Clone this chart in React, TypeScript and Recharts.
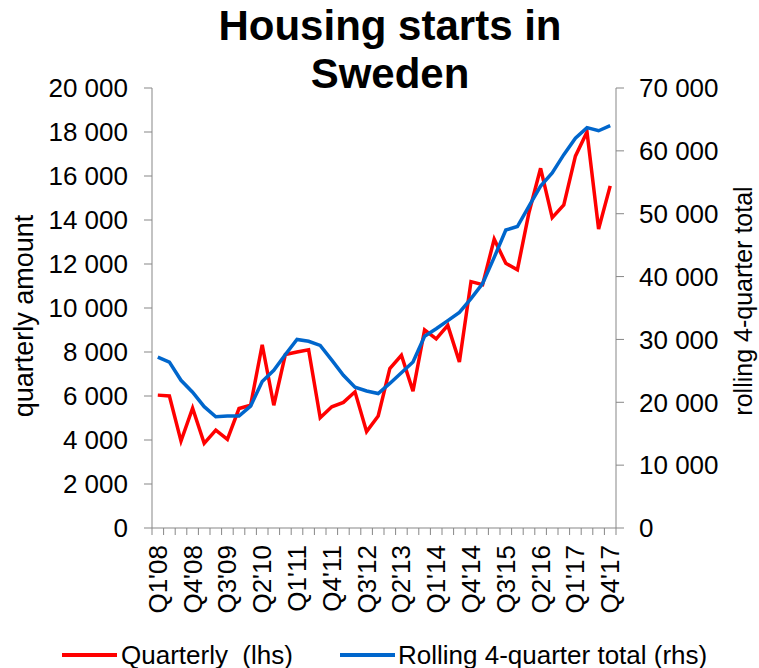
import { LineChart, Line, XAxis, YAxis } from 'recharts'

const FONT = '"Liberation Sans", Arial, sans-serif'
const AXIS_GREY = '#878787'
const RED = '#ff0000'
const BLUE = '#0066cc'

const years = ['08', '09', '10', '11', '12', '13', '14', '15', '16', '17']
const quarters = years.flatMap(y => [1, 2, 3, 4].map(q => `Q${q}'${y}`))

// quarterly housing starts (lhs)
const quarterly = [
  6040, 6000, 3950, 5450, 3850, 4450, 4030, 5430, 5580, 8330,
  5580, 7890, 8000, 8100, 5010, 5510, 5710, 6190, 4380, 5090,
  7250, 7850, 6220, 9010, 8600, 9210, 7550, 11200, 11060, 13130,
  12030, 11740, 14340, 16350, 14110, 14690, 16900, 18000, 13590, 15550,
]

// rolling 4-quarter total (rhs)
const rolling = [
  27200, 26400, 23500, 21600, 19300, 17700, 17800, 17800, 19400, 23300,
  25100, 27600, 30000, 29700, 29050, 26700, 24300, 22400, 21800, 21400,
  23000, 24700, 26400, 30500, 31700, 33000, 34300, 36500, 38900, 43050,
  47400, 47960, 51200, 54400, 56500, 59400, 62000, 63700, 63200, 64000,
]

const leftTicks = [0, 2000, 4000, 6000, 8000, 10000, 12000, 14000, 16000, 18000, 20000]
const rightTicks = [0, 10000, 20000, 30000, 40000, 50000, 60000, 70000]

const data = quarters.map((q, i) => ({
  quarter: q,
  quarterly: quarterly[i],
  rolling: rolling[i],
}))

const fmt = (v: number) => String(v).replace(/\B(?=(\d{3})+(?!\d))/g, ' ')

const HALF_BAND = 5.8

const QuarterTick = (props: any) => {
  const { x, y, index, payload } = props
  const i = index ?? payload?.index ?? 0
  return (
    <g>
      <line x1={x - HALF_BAND} x2={x - HALF_BAND} y1={y - 7} y2={y} stroke={AXIS_GREY} />
      {i === quarters.length - 1 && (
        <line x1={x + HALF_BAND} x2={x + HALF_BAND} y1={y - 7} y2={y} stroke={AXIS_GREY} />
      )}
      {i % 3 === 0 && (
        <text
          x={x}
          y={y + 10}
          transform={`rotate(-90, ${x}, ${y + 10})`}
          textAnchor="end"
          dy="0.35em"
          fontSize={26}
          fontFamily={FONT}
          fill="#000"
        >
          {payload.value}
        </text>
      )}
    </g>
  )
}

export default function App() {
  return (
    <div style={{ position: 'absolute', left: 0, top: 0, width: 759, height: 668, background: '#fff', fontFamily: FONT }}>
      <LineChart
        width={759}
        height={668}
        data={data}
        margin={{ top: 88, right: 0, bottom: 40, left: 0 }}
      >
        <XAxis
          dataKey="quarter"
          interval={0}
          height={100}
          padding={{ left: HALF_BAND, right: HALF_BAND }}
          tickLine={false}
          tickSize={7}
          tickMargin={0}
          axisLine={{ stroke: AXIS_GREY }}
          tick={<QuarterTick />}
        />
        <YAxis
          yAxisId="left"
          width={152}
          domain={[0, 20000]}
          ticks={leftTicks}
          tickFormatter={fmt}
          tickSize={8}
          tickMargin={16}
          axisLine={{ stroke: AXIS_GREY }}
          tickLine={{ stroke: AXIS_GREY }}
          tick={{ fontSize: 26, fill: '#000', fontFamily: FONT }}
          interval={0}
        />
        <YAxis
          yAxisId="right"
          orientation="right"
          width={143}
          domain={[0, 70000]}
          ticks={rightTicks}
          tickFormatter={fmt}
          tickSize={8}
          tickMargin={15}
          axisLine={{ stroke: AXIS_GREY }}
          tickLine={{ stroke: AXIS_GREY }}
          tick={{ fontSize: 26, fill: '#000', fontFamily: FONT }}
          interval={0}
        />
        <Line
          yAxisId="left"
          type="linear"
          dataKey="quarterly"
          stroke={RED}
          strokeWidth={3.5}
          dot={false}
          isAnimationActive={false}
        />
        <Line
          yAxisId="right"
          type="linear"
          dataKey="rolling"
          stroke={BLUE}
          strokeWidth={3.5}
          dot={false}
          isAnimationActive={false}
        />
      </LineChart>

      <svg
        width={759}
        height={668}
        style={{ position: 'absolute', left: 0, top: 0, pointerEvents: 'none' }}
      >
        <text x={390} y={40} textAnchor="middle" fontSize={42} fontWeight="bold" fontFamily={FONT}>
          Housing starts in
        </text>
        <text x={390} y={88} textAnchor="middle" fontSize={42} fontWeight="bold" fontFamily={FONT}>
          Sweden
        </text>
        <text
          transform="translate(33, 316) rotate(-90)"
          textAnchor="middle"
          fontSize={27}
          fontFamily={FONT}
        >
          quarterly amount
        </text>
        <text
          transform="translate(752, 301) rotate(-90)"
          textAnchor="middle"
          fontSize={25}
          fontFamily={FONT}
        >
          rolling 4-quarter total
        </text>
      </svg>

      <div style={{ position: 'absolute', top: 640, left: 62, height: 30, display: 'flex', alignItems: 'center', fontSize: 26, whiteSpace: 'pre' }}>
        <div style={{ width: 55, height: 4, background: RED, marginRight: 4 }} />
        <span>Quarterly  (lhs)</span>
      </div>
      <div style={{ position: 'absolute', top: 640, left: 340, height: 30, display: 'flex', alignItems: 'center', fontSize: 26, whiteSpace: 'pre' }}>
        <div style={{ width: 55, height: 4, background: BLUE, marginRight: 3 }} />
        <span>Rolling 4-quarter total (rhs)</span>
      </div>
    </div>
  )
}
